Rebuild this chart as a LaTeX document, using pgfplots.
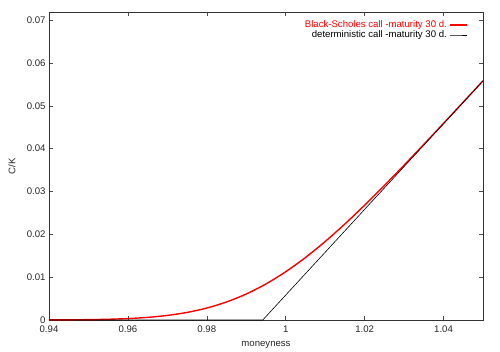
\documentclass[border=0pt]{standalone}
\usepackage{pgfplots}
\pgfplotsset{compat=1.18}
\usepackage{fontspec}
\setmainfont{Liberation Sans}
\begin{document}
\begin{tikzpicture}
\begin{axis}[
  scale only axis,
  width=434pt, height=308pt,
  xmin=0.94, xmax=1.05, ymin=0, ymax=0.0719,
  xtick={0.94,0.96,0.98,1.0,1.02,1.04},
  xticklabels={0.94,0.96,0.98,1,1.02,1.04},
  ytick={0,0.01,0.02,0.03,0.04,0.05,0.06,0.07},
  yticklabels={0,0.01,0.02,0.03,0.04,0.05,0.06,0.07},
  scaled ticks=false,
  tick align=inside,
  major tick length=4pt,
  tick style={black!70, line width=0.5pt},
  axis line style={black!80, line width=0.6pt},
  ticklabel style={font=\fontsize{9.6}{11}\selectfont, text=black!85},
  xticklabel style={yshift=-2pt},
  label style={font=\fontsize{9.6}{11}\selectfont, text=black!85},
  xlabel={moneyness},
  ylabel={C/K},
  xlabel style={at={(axis description cs:0.5,0)}, anchor=center, yshift=-25pt},
  ylabel style={at={(axis description cs:0,0.5)}, anchor=center, yshift=37pt},
  legend style={draw=none, fill=none, at={(0.985,0.985)}, anchor=north east,
    xshift=-6pt,
    font=\fontsize{9.6}{11}\selectfont, row sep=-2.5pt},
  legend cell align=right,
  legend plot pos=right,
  legend image post style={},
]
\addplot[red, line width=1.4pt, smooth] coordinates {
(0.940,0.0000162) (0.945,0.000038) (0.950,0.000083) (0.955,0.000171)
(0.960,0.000334) (0.965,0.000614) (0.970,0.001071) (0.975,0.001772)
(0.980,0.002795) (0.985,0.004211) (0.990,0.006078) (0.995,0.008432)
(1.000,0.011278) (1.005,0.014595) (1.010,0.018333) (1.015,0.022428)
(1.020,0.026808) (1.025,0.031402) (1.030,0.036149) (1.035,0.040998)
(1.040,0.045912) (1.045,0.050866) (1.050,0.055842)
};
\addlegendentry{\textcolor{red}{Black-Scholes call -maturity 30 d.}}
\addplot[black, line width=0.6pt] coordinates {
(0.94,0) (0.99418,0) (1.05,0.05582)
};
\addlegendentry{deterministic call -maturity 30 d.}
\end{axis}
\path ([xshift=-49pt,yshift=-30pt]current axis.south west) rectangle ([xshift=17pt,yshift=12pt]current axis.north east);
\end{tikzpicture}
\end{document}
